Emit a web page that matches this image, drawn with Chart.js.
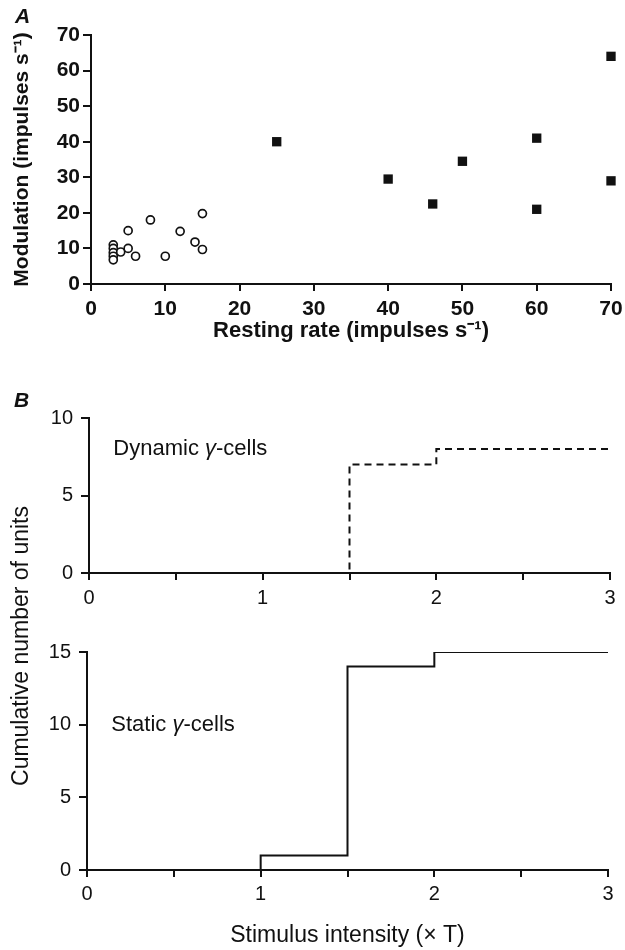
<!DOCTYPE html>
<html>
<head>
<meta charset="utf-8">
<script src="https://cdn.jsdelivr.net/npm/chart.js@4.4.1/dist/chart.umd.min.js"></script>
<style>
  body { margin: 0; background: #fff; }
  #page { position: relative; width: 625px; height: 950px; font-family: "Liberation Sans", Arial, sans-serif; color: #111; }
  #page canvas { position: absolute; left: 0; }
  .panel { position: absolute; font-style: italic; font-weight: bold; font-size: 21px; }
  #ylabB { position: absolute; left: 20px; top: 646px; transform: translate(-50%, -50%) rotate(-90deg); white-space: nowrap; font-size: 23px; }
</style>
</head>
<body>
<div id="page">
  <canvas id="chartA" width="625" height="350" style="top:0px;"></canvas>
  <canvas id="chartB1" width="625" height="235" style="top:380px;"></canvas>
  <canvas id="chartB2" width="625" height="335" style="top:615px;"></canvas>
  <div class="panel" style="left:15px; top:4px;">A</div>
  <div class="panel" style="left:14px; top:388px;">B</div>
  <div id="ylabB">Cumulative number of units</div>
</div>
<script>
"use strict";

// panel A: resting rate vs modulation
var staticRest = [3, 3, 3, 3, 3, 4, 5, 5, 6, 8, 10, 12, 14, 15, 15];
var staticMod = [11, 10, 8.8, 7.8, 6.8, 9, 15, 10, 7.8, 18, 7.8, 14.8, 11.8, 19.8, 9.7];
var dynamicRest = [25, 40, 46, 50, 60, 60, 70, 70];
var dynamicMod = [40, 29.5, 22.5, 34.5, 41, 21, 64, 29];

// panel B: cumulative counts against stimulus intensity
var stimDynamic = [0, 1.5, 2, 3];
var countDynamic = [0, 7, 8, 8];
var stimStatic = [0, 1, 1.5, 2, 3];
var countStatic = [0, 1, 14, 15, 15];

var ticksA = [0, 10, 20, 30, 40, 50, 60, 70];

Chart.defaults.font.family = '"Liberation Sans", Arial, sans-serif';
Chart.defaults.color = "#111";

function points(xs, ys) {
    return xs.map(function(x, i) { return { x: x, y: ys[i] }; });
}

function axisLook(len) {
    return {
        grid: { drawOnChartArea: false, drawTicks: true, tickLength: len, color: "#111", lineWidth: 2 },
        border: { display: true, color: "#111", width: 2 }
    };
}

// text with an italic gamma, placed at data coordinates
var cellLabel = {
    id: "cellLabel",
    afterDatasetsDraw(chart, args, opts) {
        if (!opts.parts) return;
        var ctx = chart.ctx;
        var px = chart.scales.x.getPixelForValue(opts.at[0]);
        var py = chart.scales.y.getPixelForValue(opts.at[1]);
        ctx.save();
        ctx.fillStyle = "#111";
        ctx.textBaseline = "middle";
        opts.parts.forEach(function(p) {
            ctx.font = (p[1] ? "italic " : "") + "22px 'Liberation Sans', Arial, sans-serif";
            ctx.fillText(p[0], px, py);
            px += ctx.measureText(p[0]).width;
        });
        ctx.restore();
    }
};

new Chart(document.getElementById("chartA"), {
    type: "scatter",
    data: {
        datasets: [{
            label: "Static",
            data: points(staticRest, staticMod),
            pointStyle: "circle",
            pointRadius: 4,
            pointBorderWidth: 1.7,
            borderColor: "#111",
            backgroundColor: "#fff",
            clip: false
        }, {
            label: "Dynamic",
            data: points(dynamicRest, dynamicMod),
            pointStyle: "rect",
            pointRadius: 6.6,
            pointBorderWidth: 0,
            borderColor: "#111",
            backgroundColor: "#111",
            clip: false
        }]
    },
    options: {
        responsive: false,
        animation: false,
        layout: { padding: { left: 0, right: 14, top: 35, bottom: 0 } },
        plugins: { legend: { display: false }, tooltip: { enabled: false } },
        scales: {
            x: Object.assign({
                type: "linear", min: 0, max: 70,
                afterBuildTicks: function(s) { s.ticks = ticksA.map(function(v) { return { value: v }; }); },
                ticks: { padding: 6, font: { size: 21, weight: "bold" } },
                title: { display: true, text: "Resting rate (impulses s\u207B\u00B9)", font: { size: 22, weight: "bold" }, padding: { top: 0, bottom: 6 } },
                afterFit: function(s) { s.height = 350 - 284; s.paddingLeft = 0; s.paddingRight = 0; }
            }, axisLook(7)),
            y: Object.assign({
                type: "linear", min: 0, max: 70,
                afterBuildTicks: function(s) { s.ticks = ticksA.map(function(v) { return { value: v }; }); },
                ticks: { padding: 3, font: { size: 21, weight: "bold" } },
                title: { display: true, text: "Modulation (impulses s\u207B\u00B9)", font: { size: 21, weight: "bold" }, padding: { top: 10, bottom: 0 } },
                afterFit: function(s) { s.width = 91; }
            }, axisLook(8))
        }
    }
});

function stepChart(id, xs, ys, yMax, dash, label, labelAt, frame, withTitle) {
    return new Chart(document.getElementById(id), {
        type: "scatter",
        data: {
            datasets: [{
                data: points(xs, ys),
                showLine: true,
                stepped: true,
                borderColor: "#111",
                borderWidth: 2,
                borderDash: dash,
                pointRadius: 0,
                fill: false
            }]
        },
        plugins: [cellLabel],
        options: {
            responsive: false,
            animation: false,
            layout: { padding: { left: 0, right: 625 - frame.right, top: frame.top, bottom: 0 } },
            plugins: {
                legend: { display: false },
                tooltip: { enabled: false },
                cellLabel: { parts: [[label + " ", false], ["\u03B3", true], ["-cells", false]], at: labelAt }
            },
            scales: {
                x: Object.assign({
                    type: "linear", min: 0, max: 3,
                    ticks: { stepSize: 0.5, padding: frame.xpad, font: { size: 20 },
                        callback: function(v) { return Number.isInteger(v) ? String(v) : ""; } },
                    title: { display: withTitle, text: "Stimulus intensity (\u00D7 T)", font: { size: 23 }, padding: { top: 0, bottom: 1 } },
                    afterFit: function(s) { s.height = frame.h - frame.bottom; s.paddingLeft = 0; s.paddingRight = 0; }
                }, axisLook(7)),
                y: Object.assign({
                    type: "linear", min: 0, max: yMax,
                    ticks: { stepSize: 5, padding: 8, font: { size: 20 } },
                    afterFit: function(s) { s.width = frame.left; }
                }, axisLook(8))
            }
        }
    });
}

stepChart("chartB1", stimDynamic, countDynamic, 10, [7, 5], "Dynamic", [0.14, 8],
    { left: 89, right: 610, top: 38, bottom: 193, h: 235, xpad: 6 }, false);
stepChart("chartB2", stimStatic, countStatic, 15, [], "Static", [0.14, 10],
    { left: 87, right: 608, top: 37, bottom: 255, h: 335, xpad: 5 }, true);
</script>
</body>
</html>
